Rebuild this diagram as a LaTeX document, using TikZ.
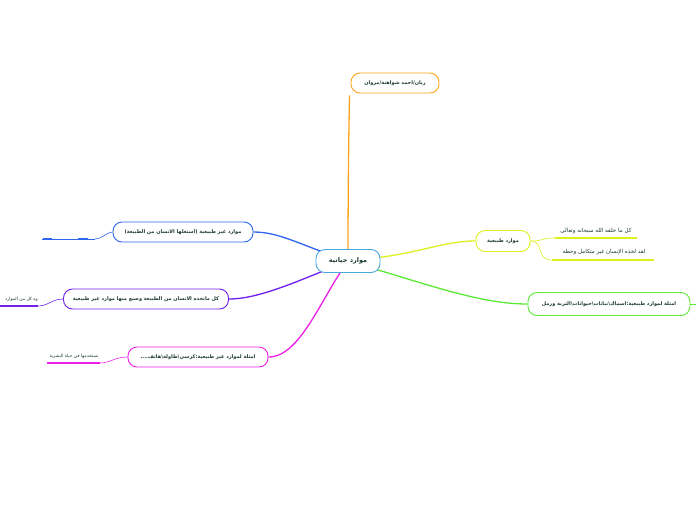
\documentclass[tikz,border=0pt]{standalone}
\usepackage{fontspec}
\usetikzlibrary{backgrounds}
\newfontfamily\ar[Script=Arabic]{DejaVu Sans}
\TeXXeTstate=1
\definecolor{txt}{HTML}{1C3A2C}
\definecolor{cblue}{HTML}{4AA8E0}
\definecolor{corange}{HTML}{FFA41C}
\definecolor{cyellow}{HTML}{DDF020}
\definecolor{cgreen}{HTML}{5CEB34}
\definecolor{cbluebr}{HTML}{2F66EE}
\definecolor{cpurple}{HTML}{7020EE}
\definecolor{cmag}{HTML}{EE20E8}
\newcommand\arsm{\ar\bfseries\fontsize{5.0}{6}\selectfont}
\newcommand\arleaf{\ar\fontsize{5.6}{6.5}\selectfont}
\newcommand\artiny{\ar\fontsize{4.4}{5}\selectfont}
\tikzset{
  topic/.style={draw=#1, rounded corners=9pt, line width=0.9pt, fill=white,
    inner sep=0pt, font=\arsm, text=txt, align=center},
  branch/.style={draw=#1, line width=1.3pt},
  uline/.style={draw=#1, line width=1.6pt},
  leaf/.style={font=\arleaf, text=txt, inner sep=1pt},
  tleaf/.style={font=\artiny, text=txt, inner sep=1pt}
}
\begin{document}
\begin{tikzpicture}[x=1pt,y=-1pt]
\useasboundingbox (0,0) rectangle (696,520);

\node[topic=cblue, minimum width=64pt, minimum height=23pt, font=\ar\bfseries\fontsize{6.5}{7}\selectfont] (c) at (348,261) {\beginR موارد حياتية\endR};
\node[topic=corange, minimum width=88pt, minimum height=20pt] (o) at (395,83) {\beginR ريان/احمد شواهنة/مروان\endR};
\node[topic=cyellow, minimum width=54pt, minimum height=21pt] (y) at (503,241) {\beginR موارد طبيعية\endR};
\node[topic=cgreen, minimum width=162pt, minimum height=23pt] (g) at (609,304) {\beginR امثلة لموارد طبيعية:اسماك\textbackslash نباتات\textbackslash حيوانات\textbackslash التربة ورمل\endR};
\node[topic=cbluebr, minimum width=140pt, minimum height=20pt] (b) at (183,232) {\beginR موارد غير طبيعية (استغلها الانسان من الطبيعة)\endR};
\node[topic=cpurple, minimum width=165pt, minimum height=20pt] (p) at (146,299) {\beginR كل ماتخذه الانسان من الطبيعة وصنع منها موارد غير طبيعية\endR};
\node[topic=cmag, minimum width=140pt, minimum height=20pt] (m) at (198,357) {\beginR امثلة لموارد غير طبيعية:كرسي\textbackslash طاولة\textbackslash هاتف....\endR};

\begin{scope}[on background layer]
\fill[white] (0,0) rectangle (696,520);
\draw[branch=corange] (c.center) .. controls (348,180) and (349,120) .. ([xshift=-1pt,yshift=-2pt]o.south west);
\draw[branch=cyellow] (c.center) .. controls (420,255) and (440,241) .. (y.west);
\draw[branch=cgreen] (c.center) .. controls (430,285) and (480,304) .. (g.west);
\draw[branch=cbluebr] (c.center) .. controls (300,245) and (280,232) .. (b.east);
\draw[branch=cpurple] (c.center) .. controls (300,280) and (260,299) .. (p.east);
\draw[branch=cmag] (c.center) .. controls (320,300) and (300,357) .. (m.east);
\end{scope}

% yellow children
\coordinate (y1a) at (555,238); \coordinate (y1b) at (637,238);
\coordinate (y2a) at (552,260); \coordinate (y2b) at (654,260);
\node[leaf, anchor=south] (y1) at (596,235) {\beginR كل ما خلقه الله سبحانه وتعالى\endR};
\node[leaf, anchor=south] (y2) at (604,256) {\beginR لقد لخذه الإنسان غير متكامل وحطه\endR};
\draw[branch=cyellow, line width=0.6pt] (y.east) .. controls (545,241) and (540,238) .. (y1a);
\draw[branch=cyellow, line width=0.6pt] (y.east) .. controls (545,241) and (535,260) .. (y2a);
\draw[uline=cyellow] (y1a) -- (y1b);
\draw[uline=cyellow] (y2a) -- (y2b);

% green tail
\coordinate (gt) at (696,304);
\draw[branch=cgreen, line width=0.6pt] (g.east) -- (gt);

% blue child (empty)
\coordinate (b1a) at (42,239); \coordinate (b1b) at (95,239);
\draw[branch=cbluebr, line width=0.6pt] (b.west) .. controls (105,233) and (102,239) .. (b1b);
\draw[draw=cbluebr, line width=0.5pt] (b1a) -- (b1b);
\draw[draw=cbluebr, line width=1.6pt] (43,239) -- (52,239);
\draw[draw=cbluebr, line width=1.6pt] (78,239) -- (88,239);

% purple child
\coordinate (p1a) at (0,306); \coordinate (p1b) at (38,306);
\node[tleaf, anchor=south east] (p1) at (39,303) {\beginR وه كل من الموارد\endR};
\draw[branch=cpurple, line width=0.6pt] (p.west) .. controls (52,299) and (48,306) .. (p1b);
\draw[uline=cpurple] (p1a) -- (p1b);

% magenta child
\coordinate (m1a) at (47,363); \coordinate (m1b) at (100,363);
\node[tleaf, anchor=south] (m1) at (74,360) {\beginR نستخدمها في حياة البشرية\endR};
\draw[branch=cmag, line width=0.6pt] (m.west) .. controls (115,357) and (110,363) .. (m1b);
\draw[uline=cmag] (m1a) -- (m1b);
\end{tikzpicture}
\end{document}
